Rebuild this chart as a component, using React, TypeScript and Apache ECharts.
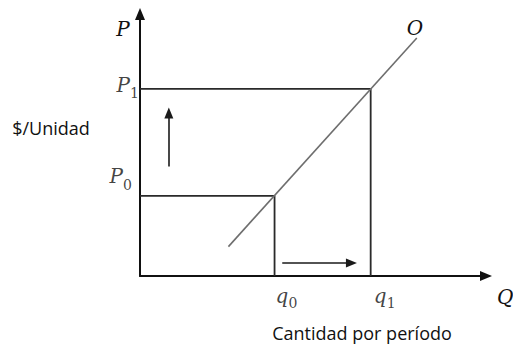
import React, { useEffect, useRef } from "react";
import * as echarts from "echarts";

// Quantities (horizontal axis) and prices (vertical axis), arbitrary units
const quantities = [3.5, 6]; // q0, q1
const prices = [3, 7]; // P0, P1
const quantitySymbol = "q";
const priceSymbol = "P";
const quantitySubscripts = ["0", "1"];
const priceSubscripts = ["0", "1"];
// Supply curve O (two endpoints)
const supplyX = [2.3, 7.2];
const supplyY = [1.1, 8.9];
// Arrows showing the move: price up, quantity right
const priceArrowX = 0.75;
const priceArrowY = [4.1, 6.1];
const qtyArrowY = 0.49;
const qtyArrowX = [3.7, 5.5];
const xMax = 9;
const yMax = 9.8;

const MATH = "'DejaVu Serif', serif";
const SANS = "'Open Sans', 'Noto Sans', sans-serif";
const INK = "#111111";

export default function App() {
  const ref = useRef<HTMLDivElement>(null);
  useEffect(() => {
    if (!ref.current) return;
    const chart = echarts.init(ref.current, null, { renderer: "svg" });
    const [q0, q1] = quantities;
    const [p0, p1] = prices;
    const rectLine = { color: "#2a2a2a", width: 1.8 };
    const letter = (text: string, dx: number, dy: number, align: string) => ({
      show: true,
      position: "inside",
      align,
      verticalAlign: "middle",
      offset: [dx, dy],
      formatter: text,
      fontFamily: MATH,
      fontStyle: "italic",
      fontSize: 20,
      color: INK,
    });
    const digit = (text: string, dx: number, dy: number) => ({
      show: true,
      position: "inside",
      align: "left",
      verticalAlign: "middle",
      offset: [dx, dy],
      formatter: text,
      fontFamily: MATH,
      fontSize: 14,
      color: INK,
    });
    const hidden = { color: "rgba(0,0,0,0)" };
    chart.setOption({
      animation: false,
      backgroundColor: "#ffffff",
      grid: { left: 140, right: 27, top: 14, bottom: 71 },
      xAxis: {
        type: "value",
        min: 0,
        max: xMax,
        axisLine: {
          show: true,
          onZero: false,
          symbol: ["none", "triangle"],
          symbolSize: [10, 12],
          lineStyle: { color: "#111", width: 2 },
        },
        axisTick: { show: false },
        axisLabel: { show: false },
        splitLine: { show: false },
      },
      yAxis: {
        type: "value",
        min: 0,
        max: yMax,
        axisLine: {
          show: true,
          onZero: false,
          symbol: ["none", "triangle"],
          symbolSize: [10, 12],
          lineStyle: { color: "#111", width: 2 },
        },
        axisTick: { show: false },
        axisLabel: { show: false },
        splitLine: { show: false },
      },
      series: [
        {
          type: "line",
          name: "P1 box",
          data: [
            [0, p1],
            [q1, p1],
            [q1, 0],
          ],
          symbol: "none",
          lineStyle: rectLine,
          z: 2,
        },
        {
          type: "line",
          name: "P0 box",
          data: [
            [0, p0],
            [q0, p0],
            [q0, 0],
          ],
          symbol: "none",
          lineStyle: rectLine,
          z: 2,
        },
        {
          type: "line",
          name: "O",
          data: supplyX.map((x, i) => [x, supplyY[i]]),
          symbol: "none",
          lineStyle: { color: "#6e6e6e", width: 1.6 },
          z: 3,
          markLine: {
            silent: true,
            symbol: ["none", "triangle"],
            symbolSize: [9, 11],
            label: { show: false },
            lineStyle: { color: "#1a1a1a", width: 1.6, type: "solid" },
            data: [
              [
                { coord: [priceArrowX, priceArrowY[0]] },
                { coord: [priceArrowX, priceArrowY[1]] },
              ],
              [
                { coord: [qtyArrowX[0], qtyArrowY] },
                { coord: [qtyArrowX[1], qtyArrowY] },
              ],
            ],
          },
        },
        {
          type: "scatter",
          name: "tick letters",
          symbolSize: 1,
          itemStyle: hidden,
          data: [
            { value: [0, p0], label: letter(priceSymbol, -17, -20, "right") },
            { value: [0, p1], label: letter(priceSymbol, -10, -4, "right") },
            { value: [q0, 0], label: letter(quantitySymbol, 1, 20, "left") },
            { value: [q1, 0], label: letter(quantitySymbol, 3, 20, "left") },
          ],
          z: 5,
        },
        {
          type: "scatter",
          name: "tick subscripts",
          symbolSize: 1,
          itemStyle: hidden,
          data: [
            { value: [0, p0], label: digit(priceSubscripts[0], -17, -11) },
            { value: [0, p1], label: digit(priceSubscripts[1], -10, 4) },
            { value: [q0, 0], label: digit(quantitySubscripts[0], 14, 27) },
            { value: [q1, 0], label: digit(quantitySubscripts[1], 16, 27) },
          ],
          z: 5,
        },
      ],
      graphic: [
        {
          type: "text",
          x: 123,
          y: 29,
          style: {
            text: "P",
            font: `italic 20px ${MATH}`,
            fill: INK,
            align: "center",
            verticalAlign: "middle",
          },
        },
        {
          type: "text",
          x: 415,
          y: 28,
          style: {
            text: "O",
            font: `italic 20px ${MATH}`,
            fill: INK,
            align: "center",
            verticalAlign: "middle",
          },
        },
        {
          type: "text",
          x: 497,
          y: 297,
          style: {
            text: "Q",
            font: `italic 20px ${MATH}`,
            fill: INK,
            align: "left",
            verticalAlign: "middle",
          },
        },
        {
          type: "text",
          x: 51,
          y: 128,
          style: {
            text: "$/Unidad",
            font: `18px ${SANS}`,
            fill: INK,
            align: "center",
            verticalAlign: "middle",
          },
        },
        {
          type: "text",
          x: 362,
          y: 333,
          style: {
            text: "Cantidad por período",
            font: `18px ${SANS}`,
            fill: INK,
            align: "center",
            verticalAlign: "middle",
          },
        },
      ],
    });
    return () => chart.dispose();
  }, []);
  return (
    <div
      ref={ref}
      style={{ position: "fixed", left: 0, top: 0, width: 513, height: 347, background: "#fff" }}
    />
  );
}
